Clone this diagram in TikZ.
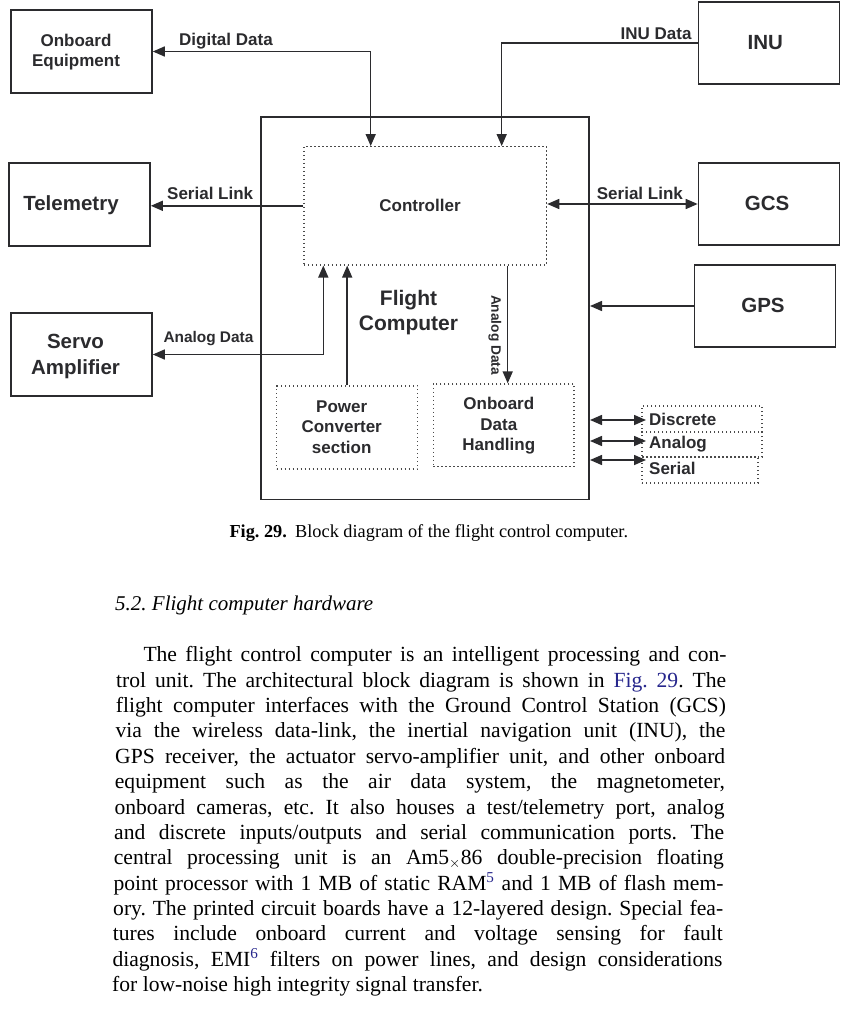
\documentclass[tikz,border=0pt]{standalone}
\usepackage{fontspec}
\setmainfont{Liberation Serif}
\newfontfamily\arial{Liberation Sans}
\usetikzlibrary{arrows.meta}
\definecolor{ink}{HTML}{2B2B2E}
\definecolor{dotc}{HTML}{4A4A4A}
\definecolor{linkc}{HTML}{26268C}
\tikzset{
  box/.style={draw=ink, line width=1.6pt, inner sep=0pt},
  dbox/.style={draw=dotc, line width=1.2pt, dash pattern=on 1.2pt off 2.8pt, inner sep=0pt},
  wire/.style={draw=ink, line width=1.5pt},
  txt/.style={text=ink, inner sep=0pt, anchor=base, align=center},
  fa/.style={font=\arial\bfseries\fontsize{17}{20.5}\selectfont},
  fb/.style={font=\arial\bfseries\fontsize{20.5}{25.7}\selectfont},
  fc/.style={font=\arial\bfseries\fontsize{21}{24.5}\selectfont},
  fd/.style={font=\arial\bfseries\fontsize{15.4}{18}\selectfont},
  fe/.style={font=\arial\bfseries\fontsize{13.7}{16}\selectfont},
  bodyline/.style={anchor=base west, inner sep=0pt, font=\fontsize{21.6}{25}\selectfont},
}
\newcommand{\jl}[1]{\makebox[610pt][s]{#1}}
\frenchspacing
\begin{document}
\begin{tikzpicture}[x=1pt,y=-1pt, >={Triangle[length=12pt,width=10pt]}]
\useasboundingbox (0,0) rectangle (861,1025);
\fill[white] (0,0) rectangle (861,1025);

% ---- outer boxes
\node[box, minimum width=141pt, minimum height=83pt] (oe) at (81.5,51.5) {};
\node[box, minimum width=141pt, minimum height=83pt] (tel) at (79.5,204.5) {};
\node[box, minimum width=141pt, minimum height=83pt] (servo) at (81.5,354.5) {};
\node[box, minimum width=141pt, minimum height=82pt] (inu) at (769,43) {};
\node[box, minimum width=141pt, minimum height=82pt] (gcs) at (769,204) {};
\node[box, minimum width=141pt, minimum height=82pt] (gps) at (765,306) {};
\node[box, minimum width=328pt, minimum height=382.6pt] (fcb) at (425.2,308) {};

% ---- dotted boxes
\node[dbox, minimum width=242.7pt, minimum height=118.3pt] (ctrl) at (425.3,205.8) {};
\node[dbox, minimum width=141pt, minimum height=83pt] (pwr) at (347.2,427.5) {};
\node[dbox, minimum width=140.7pt, minimum height=82.7pt] (odh) at (503.7,425.3) {};
\node[dbox, minimum width=120pt, minimum height=26pt] (disc) at (702,419) {};
\node[dbox, minimum width=120pt, minimum height=25pt] (anlg) at (702,444.5) {};
\node[dbox, minimum width=116pt, minimum height=26pt] (ser) at (700,470) {};

% ---- box texts (base = baseline of last line)
\node[txt, fa] (oet) at (76,66.7) {Onboard\\Equipment};
\node[txt, fb] (telt) at (71,210.7) {Telemetry};
\node[txt, fb] (servot) at (75.5,374) {Servo\\Amplifier};
\node[txt, fb] (inut) at (765.3,49.3) {INU};
\node[txt, fb] (gcst) at (767.2,210) {GCS};
\node[txt, fb] (gpst) at (763,312.3) {GPS};
\node[txt, fa] (ctrlt) at (420,211.7) {Controller};
\node[txt, fc] (fct) at (408.5,330.3) {Flight\\Computer};
\node[txt, fa] (pwrt) at (341.7,453.3) {Power\\Converter\\section};
\node[txt, fa] (odht) at (498.8,450.7) {Onboard\\Data\\Handling};
\node[txt, fa, anchor=base west] (disct) at (649,425.7) {Discrete};
\node[txt, fa, anchor=base west] (anlgt) at (649,448.3) {Analog};
\node[txt, fa, anchor=base west] (sert) at (649,474.3) {Serial};

% ---- connector labels
\node[txt, fa, anchor=base west] (ldd) at (179,46) {Digital Data};
\node[txt, fa, anchor=base west] (lsl1) at (167,199) {Serial Link};
\node[txt, fa, anchor=base east] (linu) at (691.7,40) {INU Data};
\node[txt, fa, anchor=base west] (lsl2) at (596.7,199) {Serial Link};
\node[txt, fd, anchor=base west] (lad) at (163.3,342.3) {Analog Data};
\node[txt, fe, anchor=center, rotate=-90] (lad2) at (495,335) {Analog Data};

% ---- connectors
\coordinate (xdd) at (370.7,0);
\coordinate (xinu) at (501.7,0);
\coordinate (xad) at (323.3,0);
\coordinate (xav) at (507.7,0);
\coordinate (p1) at (646,420);
\coordinate (p2) at (646,441);
\coordinate (p3) at (646,460);
\draw[wire, <->] (oe.east) -| (ctrl.north -| xdd);
\draw[wire, ->] (inu.west) -| (ctrl.north -| xinu);
\draw[wire, ->] (ctrl.west) -- (tel.east |- ctrl.west);
\draw[wire, <->] (ctrl.east |- gcs.west) -- (gcs.west);
\draw[wire, ->] (gps.west) -- (fcb.east |- gps.west);
\draw[wire, <->] (servo.east) -| (ctrl.south -| xad);
\draw[wire, ->] (pwr.north) -- (ctrl.south -| pwr.north);
\draw[wire, ->] (ctrl.south -| xav) -- (odh.north -| xav);
\draw[wire, <->] (fcb.east |- p1) -- (p1);
\draw[wire, <->] (fcb.east |- p2) -- (p2);
\draw[wire, <->] (fcb.east |- p3) -- (p3);

% ---- caption and text
\node[anchor=base, inner sep=0pt, font=\fontsize{18.3}{22}\selectfont] (cap) at (428.8,537.3)
  {\textbf{Fig. 29.}\hspace{0.45em}Block diagram of the flight control computer.};
\node[anchor=base west, inner sep=0pt, font=\fontsize{21}{25}\selectfont\itshape] (head) at (115,610)
  {5.2. Flight computer hardware};

\node[bodyline] (l1) at (143.3,661.7) {\makebox[583pt][s]{The flight control computer is an intelligent processing and con-}};
\node[bodyline] (l2) at (116,687.1) {\jl{trol unit. The architectural block diagram is shown in {\color{linkc}Fig. 29}. The}};
\node[bodyline] (l3) at (115.7,712.5) {\jl{flight computer interfaces with the Ground Control Station (GCS)}};
\node[bodyline] (l4) at (115.3,737.8) {\jl{via the wireless data-link, the inertial navigation unit (INU), the}};
\node[bodyline] (l5) at (115,763.2) {\jl{GPS receiver, the actuator servo-amplifier unit, and other onboard}};
\node[bodyline] (l6) at (114.7,788.6) {\jl{equipment such as the air data system, the magnetometer,}};
\node[bodyline] (l7) at (114.3,814.0) {\jl{onboard cameras, etc. It also houses a test/telemetry port, analog}};
\node[bodyline] (l8) at (114,839.4) {\jl{and discrete inputs/outputs and serial communication ports. The}};
\node[bodyline] (l9) at (113.7,864.7) {\jl{central processing unit is an Am5$_{\times}$86 double-precision floating}};
\node[bodyline] (l10) at (113.3,890.1) {\jl{point processor with 1 MB of static RAM\textsuperscript{\color{linkc}5} and 1 MB of flash mem-}};
\node[bodyline] (l11) at (113,915.5) {\jl{ory. The printed circuit boards have a 12-layered design. Special fea-}};
\node[bodyline] (l12) at (112.7,940.9) {\jl{tures include onboard current and voltage sensing for fault}};
\node[bodyline] (l13) at (112.3,966.3) {\jl{diagnosis, EMI\textsuperscript{\color{linkc}6} filters on power lines, and design considerations}};
\node[bodyline] (l14) at (112,991.6) {for low-noise high integrity signal transfer.};
\end{tikzpicture}
\end{document}
